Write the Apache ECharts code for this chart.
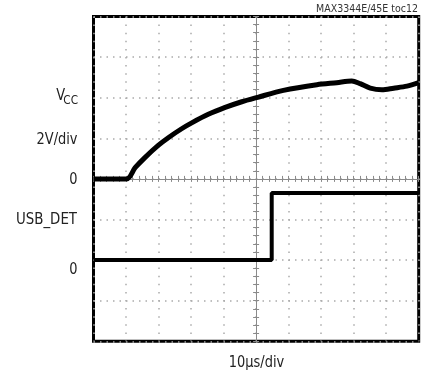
<!DOCTYPE html>
<html>
<head>
<meta charset="utf-8">
<script src="https://cdn.jsdelivr.net/npm/echarts@6/dist/echarts.min.js"></script>
<style>
  html, body { margin: 0; padding: 0; background: #fff; }
  #main { width: 421px; height: 371px; }
</style>
</head>
<body>
<div id="main"></div>
<script>
// time relative to screen centre, us (10us/div)
var vccTime = [-50, -39.8, -37.2, -34.2, -30.1, -27.0, -22.9, -19.8, -14.7, -9.5, -4.4, 0.5, 8.4, 18.7, 24.8, 29.4, 32.0, 35.1, 38.7, 42.3, 46.4, 50];
// VCC, volts (2V/div)
var vccVolt = [0, 0, 0.55, 1.05, 1.65, 2.03, 2.47, 2.76, 3.18, 3.52, 3.80, 4.02, 4.36, 4.64, 4.74, 4.82, 4.69, 4.47, 4.39, 4.47, 4.57, 4.74];
// USB_DET, volts
var usbTime = [-50, 4.8, 4.8, 50];
var usbVolt = [0, 0, 3.3, 3.3];

var fontFam = "'Liberation Sans Narrow', 'DejaVu Sans Condensed', 'Liberation Sans', sans-serif";

function pairs(xs, ys) {
  var out = [];
  for (var i = 0; i < xs.length; i++) out.push([xs[i], ys[i]]);
  return out;
}

var centreLine = { show: true, onZero: true, onZeroAxisIndex: 0, lineStyle: { color: '#8a8a8a', width: 1 } };
var tickStyle = { color: '#8a8a8a', width: 1 };

function xAx(pos, grid) {
  return {
    type: 'value', position: pos, min: -50, max: 50, interval: 10,
    axisLine: centreLine,
    axisTick: { show: true, inside: false, length: 3, lineStyle: tickStyle },
    minorTick: { show: true, splitNumber: 5, length: 3, lineStyle: tickStyle },
    axisLabel: { show: false },
    splitLine: { show: grid, lineStyle: { color: '#aaa', width: 1.5, type: [1.5, 6.6] } }
  };
}
function yAx(pos, grid) {
  return {
    type: 'value', position: pos, min: -8, max: 8, interval: 2,
    axisLine: centreLine,
    axisTick: { show: true, inside: false, length: 3, lineStyle: tickStyle },
    minorTick: { show: true, splitNumber: 5, length: 3, lineStyle: tickStyle },
    axisLabel: { show: false },
    splitLine: { show: grid, lineStyle: { color: '#aaa', width: 1.5, type: [1.5, 5] } }
  };
}

//左侧标签，窄体字
function label(txt, x, y, size, align) {
  return {
    type: 'text', x: x, y: y, scaleX: 0.9,
    style: { text: txt, font: size + 'px ' + fontFam, fill: '#222', align: align || 'right', verticalAlign: 'middle' }
  };
}

var chart = echarts.init(document.getElementById('main'));
chart.setOption({
  animation: false,
  backgroundColor: '#fff',
  grid: {
    left: 93.5, top: 16.5, right: 2.3, bottom: 29.7,
    show: true, borderColor: '#000', borderWidth: 3, backgroundColor: 'transparent'
  },
  xAxis: [xAx('bottom', true), xAx('top', false)],
  yAxis: [
    yAx('left', true),
    yAx('right', false),
    { type: 'value', min: -4, max: 12, show: false }
  ],
  series: [
    {
      name: 'VCC', type: 'line', xAxisIndex: 0, yAxisIndex: 0,
      data: pairs(vccTime, vccVolt), showSymbol: false, z: 5, smooth: 0.3,
      lineStyle: { color: '#000', width: 5 }
    },
    {
      name: 'USB_DET', type: 'line', xAxisIndex: 0, yAxisIndex: 2,
      data: pairs(usbTime, usbVolt), showSymbol: false, z: 5,
      lineStyle: { color: '#000', width: 4 }
    }
  ],
  graphic: [
    label('V', 65, 95.5, 16),
    label('CC', 78, 101, 13),
    label('2V/div', 77.5, 139.5, 16),
    label('0', 77.5, 180, 16),
    label('USB_DET', 77, 219.5, 16.5),
    label('0', 77.5, 270, 16),
    label('10\u00b5s/div', 256.5, 362.5, 16, 'center'),
    {
      type: 'text', x: 418, y: 9,
      style: { text: 'MAX3344E/45E toc12', font: '10.5px ' + fontFam, fill: '#333', align: 'right', verticalAlign: 'middle' }
    }
  ]
});
</script>
</body>
</html>
